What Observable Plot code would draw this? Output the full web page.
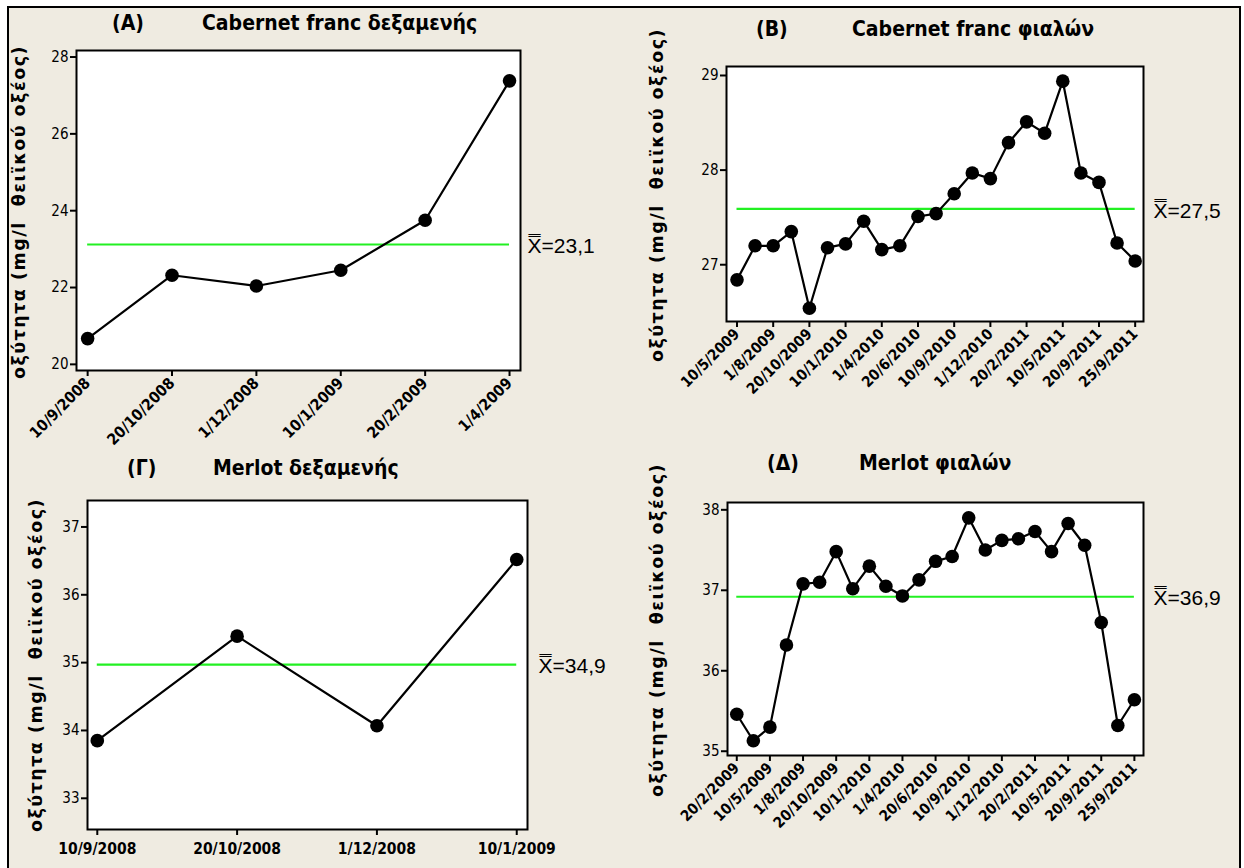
<!DOCTYPE html>
<html>
<head>
<meta charset="utf-8">
<script src="https://cdn.jsdelivr.net/npm/d3@7"></script>
<script src="https://cdn.jsdelivr.net/npm/@observablehq/plot@0.6"></script>
<style>
  body { margin: 0; background: #ffffff; }
  #fig { position: relative; width: 1244px; height: 868px; background: #ffffff; overflow: hidden; }
  #bg { position: absolute; left: 7px; top: 6px; width: 1230px; height: 870px; background: #efebe1;
        border-left: 2px solid #000; border-top: 2px solid #000; border-right: 2px solid #000; }
  .panel { position: absolute; }
  .panel svg { overflow: visible; }
  .title { position: absolute; font-family: "DejaVu Sans Condensed", "DejaVu Sans", sans-serif; font-stretch: condensed;
           font-weight: bold; font-size: 21px; color: #000; white-space: nowrap; transform: translateY(-50%); line-height: 1; }
  .ylab { position: absolute; font-family: "DejaVu Sans", sans-serif; font-weight: bold; font-size: 17.5px; letter-spacing: 1.5px;
          color: #000; white-space: pre; transform: translate(-50%, -50%) rotate(-90deg); line-height: 1; }
</style>
</head>
<body>
<div id="fig"><div id="bg"></div></div>
<script>
// ---------- data ----------
const aLabels = ["10/9/2008", "20/10/2008", "1/12/2008", "10/1/2009", "20/2/2009", "1/4/2009"];
const aValues = [20.67, 22.32, 22.04, 22.45, 23.75, 27.38];
const aMean = [23.12];
const aMeanText = ["23,1"];
const aYTicks = [20, 22, 24, 26, 28];

const bTickLabels = ["10/5/2009", "1/8/2009", "20/10/2009", "10/1/2010", "1/4/2010", "20/6/2010",
                     "10/9/2010", "1/12/2010", "20/2/2011", "10/5/2011", "20/9/2011", "25/9/2011"];
const bValues = [26.84, 27.20, 27.20, 27.35, 26.54, 27.18, 27.22, 27.46, 27.16, 27.20, 27.51, 27.54,
                 27.75, 27.97, 27.91, 28.29, 28.51, 28.39, 28.94, 27.97, 27.87, 27.23, 27.04];
const bMean = [27.59];
const bMeanText = ["27,5"];
const bYTicks = [27, 28, 29];

const gLabels = ["10/9/2008", "20/10/2008", "1/12/2008", "10/1/2009"];
const gValues = [33.85, 35.39, 34.07, 36.52];
const gMean = [34.97];
const gMeanText = ["34,9"];
const gYTicks = [33, 34, 35, 36, 37];

const dTickLabels = ["20/2/2009", "10/5/2009", "1/8/2009", "20/10/2009", "10/1/2010", "1/4/2010", "20/6/2010",
                     "10/9/2010", "1/12/2010", "20/2/2011", "10/5/2011", "20/9/2011", "25/9/2011"];
const dValues = [35.46, 35.13, 35.30, 36.32, 37.08, 37.10, 37.48, 37.02, 37.30, 37.05, 36.93, 37.13, 37.36,
                 37.42, 37.90, 37.50, 37.62, 37.64, 37.73, 37.48, 37.83, 37.56, 36.60, 35.32, 35.64];
const dMean = [36.92];
const dMeanText = ["36,9"];
const dYTicks = [35, 36, 37, 38];

const yAxisLabel = "οξύτητα (mg/l  θειϊκού οξέος)";

// ---------- styles ----------
const GREEN = "#22f022";
const NARROW = "'Liberation Sans Narrow', 'DejaVu Sans Condensed', sans-serif";
const BOLDC = "'DejaVu Sans Condensed', 'DejaVu Sans', sans-serif";
const MEANF = "'Liberation Sans', sans-serif";

function panel(o) {
  const data = o.values.map((v, i) => ({i: i + 1, v}));
  const n = data.length;
  const ticks = d3.range(1, n + 1, o.step);
  return Plot.plot({
    width: o.w, height: o.h,
    marginLeft: o.m[0], marginRight: o.m[1], marginTop: o.m[2], marginBottom: o.m[3],
    style: {background: "transparent", color: "#000", overflow: "visible"},
    x: {type: "linear", domain: o.xDomain},
    y: {domain: o.yDomain},
    marks: [
      Plot.frame({fill: "white"}),
      Plot.axisY(o.yTicks, {tickSize: 6, tickPadding: 2, strokeWidth: 2, fontSize: 15, fontFamily: NARROW,
        tickFormat: d => String(d), label: null}),
      Plot.axisX(ticks, {tickSize: 6, tickPadding: o.rotate ? 4 : 7, tickRotate: o.rotate, strokeWidth: 2,
        tickFormat: i => o.labels[(i - 1) / o.step], fontWeight: "bold", fontSize: o.xfs, fontFamily: BOLDC, label: null}),
      Plot.ruleY(o.mean, {x1: () => data[0].i, x2: () => data[n - 1].i, stroke: GREEN, strokeWidth: 2.2}),
      Plot.line(data, {x: "i", y: "v", stroke: "black", strokeWidth: 2.2}),
      Plot.dot(data, {x: "i", y: "v", r: 6.8, fill: "black"}),
      Plot.text(o.mean, {y: d => d, frameAnchor: "right", dx: o.ldx, dy: 2, textAnchor: "start",
        text: (d, i) => "X\u033F=" + o.meanText[i], fontSize: 21, fontFamily: MEANF}),
      Plot.frame({stroke: "black", strokeWidth: 2})
    ]
  });
}

const fig = document.getElementById("fig");
function place(el, left, top) {
  const d = document.createElement("div");
  d.className = "panel";
  d.style.left = left + "px"; d.style.top = top + "px";
  d.appendChild(el);
  fig.appendChild(d);
}
function addText(cls, txt, left, top) {
  const d = document.createElement("div");
  d.className = cls; d.textContent = txt;
  d.style.left = left + "px"; d.style.top = top + "px";
  fig.appendChild(d);
}

place(panel({values: aValues, labels: aLabels, step: 1, mean: aMean, meanText: aMeanText, yTicks: aYTicks,
  w: 620, h: 440, m: [76, 100, 50, 70], xDomain: [0.868, 6.13], yDomain: [19.84, 28.17], rotate: -45, xfs: 15.5, ldx: 7}), 0, 0);
place(panel({values: bValues, labels: bTickLabels, step: 2, mean: bMean, meanText: bMeanText, yTicks: bYTicks,
  w: 624, h: 440, m: [106, 101, 66, 119], xDomain: [0.42, 23.46], yDomain: [26.40, 29.095], rotate: -45, xfs: 15, ldx: 10}), 620, 0);
place(panel({values: gValues, labels: gLabels, step: 1, mean: gMean, meanText: gMeanText, yTicks: gYTicks,
  w: 620, h: 428, m: [87, 93, 60, 39], xDomain: [0.93, 4.077], yDomain: [32.54, 37.39], rotate: 0, xfs: 15.5, ldx: 11}), 0, 440);
place(panel({values: dValues, labels: dTickLabels, step: 2, mean: dMean, meanText: dMeanText, yTicks: dYTicks,
  w: 624, h: 428, m: [107, 101, 62, 113], xDomain: [0.44, 25.55], yDomain: [34.947, 38.091], rotate: -45, xfs: 15, ldx: 10}), 620, 440);

// titles
addText("title", "(A)", 112, 23);
addText("title", "Cabernet franc δεξαμενής", 202, 23);
addText("title", "(B)", 756, 29);
addText("title", "Cabernet franc φιαλών", 852, 29);
addText("title", "(Γ)", 127, 468);
addText("title", "Merlot δεξαμενής", 213, 468);
addText("title", "(Δ)", 767, 463);
addText("title", "Merlot φιαλών", 859, 463);

// y-axis labels
addText("ylab", yAxisLabel, 20, 212);
addText("ylab", yAxisLabel, 658, 195);
addText("ylab", yAxisLabel, 37, 665);
addText("ylab", yAxisLabel, 658, 630);
</script>
</body>
</html>
